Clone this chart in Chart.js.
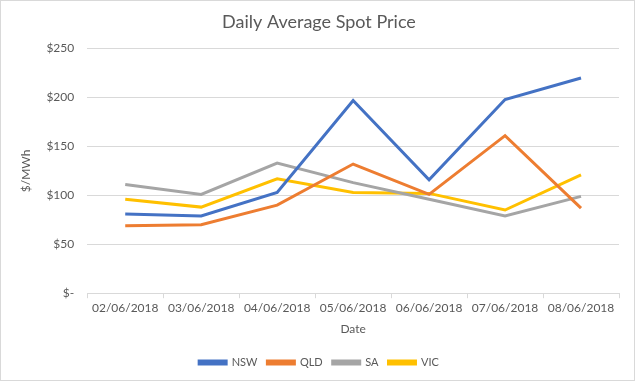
<!DOCTYPE html>
<html><head><meta charset="utf-8">
<script src="https://cdn.jsdelivr.net/npm/chart.js@4/dist/chart.umd.min.js"></script>
<style>
html,body{margin:0;padding:0;background:#fff;}
#wrap{position:relative;width:635px;height:381px;box-sizing:border-box;border:1px solid #d9d9d9;background:#fff;}
canvas{display:block;}
</style></head><body>
<div id="wrap"><canvas id="c" width="633" height="379"></canvas></div>
<script>
const categories = ['02/06/2018','03/06/2018','04/06/2018','05/06/2018','06/06/2018','07/06/2018','08/06/2018'];
const nsw = [81, 79, 103, 197, 116, 198, 220];
const qld = [69, 70, 90, 132, 101, 161, 87];
const sa  = [111, 101, 133, 113, 96, 79, 99];
const vic = [96, 88, 117, 103, 102, 85, 121];
const seriesNames = ['NSW','QLD','SA','VIC'];
const colors = ['#4472C4','#ED7D31','#A5A5A5','#FFC000'];
const values = [nsw, qld, sa, vic];
const FONT = 'Lato, "Open Sans", sans-serif';
const TXT = '#595959';

new Chart(document.getElementById('c'), {
  type: 'line',
  data: {
    labels: categories,
    datasets: seriesNames.map((n,i)=>({
      label: n, data: values[i], borderColor: colors[i], backgroundColor: colors[i],
      borderWidth: 3, pointRadius: 0, tension: 0, fill: false
    }))
  },
  options: {
    responsive: false, animation: false,
    layout: {padding: {left: 18, right: 15, top: 4, bottom: 2}},
    plugins: {
      title: {display: true, text: 'Daily Average Spot Price', color: TXT,
        font: {family: FONT, size: 18, weight: 'normal'}, padding: {top: 6, bottom: 16}},
      legend: {position: 'bottom', labels: {color: TXT, font: {family: FONT, size: 11},
        boxWidth: 27, boxHeight: 3, padding: 10}},
      tooltip: {enabled: false}
    },
    scales: {
      x: {
        offset: true,
        grid: {offset: true, drawOnChartArea: false, drawTicks: true, tickLength: 5, color: '#d9d9d9'},
        border: {color: '#d9d9d9'},
        ticks: {color: TXT, font: {family: FONT, size: 12}, maxRotation: 0, padding: 3},
        title: {display: true, text: 'Date', color: TXT, font: {family: FONT, size: 12}, padding: {top: 3, bottom: 11}}
      },
      y: {
        min: 0, max: 250,
        grid: {color: '#d9d9d9', drawTicks: false},
        border: {display: false},
        ticks: {stepSize: 50, color: TXT, font: {family: FONT, size: 12}, padding: 13,
          callback: v => v === 0 ? '$-' : '$' + v},
        title: {display: true, text: '$/MWh', color: TXT, font: {family: FONT, size: 12}, padding: {top: 0, bottom: 0}}
      }
    }
  }
});
</script>
</body></html>
